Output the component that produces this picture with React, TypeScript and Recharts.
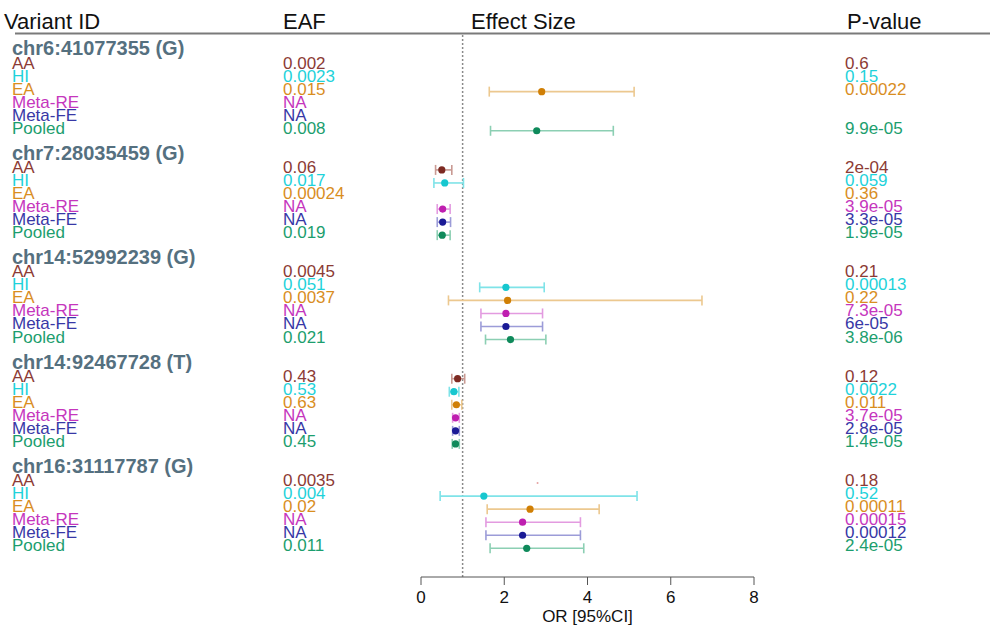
import React from 'react';
import {
  ScatterChart, Scatter, XAxis, YAxis, ErrorBar, ReferenceLine,
} from 'recharts';

const variants = [
  'chr6:41077355 (G)',
  'chr7:28035459 (G)',
  'chr14:52992239 (G)',
  'chr14:92467728 (T)',
  'chr16:31117787 (G)',
];
const cohorts = ['AA', 'HI', 'EA', 'Meta-RE', 'Meta-FE', 'Pooled'];

// effect allele frequency, per variant, per cohort
const eafValues = [
  ['0.002', '0.0023', '0.015', 'NA', 'NA', '0.008'],
  ['0.06', '0.017', '0.00024', 'NA', 'NA', '0.019'],
  ['0.0045', '0.051', '0.0037', 'NA', 'NA', '0.021'],
  ['0.43', '0.53', '0.63', 'NA', 'NA', '0.45'],
  ['0.0035', '0.004', '0.02', 'NA', 'NA', '0.011'],
];
const pValues = [
  ['0.6', '0.15', '0.00022', '', '', '9.9e-05'],
  ['2e-04', '0.059', '0.36', '3.9e-05', '3.3e-05', '1.9e-05'],
  ['0.21', '0.00013', '0.22', '7.3e-05', '6e-05', '3.8e-06'],
  ['0.12', '0.0022', '0.011', '3.7e-05', '2.8e-05', '1.4e-05'],
  ['0.18', '0.52', '0.00011', '0.00015', '0.00012', '2.4e-05'],
];
const orEst = [
  [null, null, 2.9, null, null, 2.78],
  [0.5, 0.57, null, 0.52, 0.52, 0.51],
  [null, 2.04, 2.08, 2.04, 2.04, 2.15],
  [0.88, 0.79, 0.85, 0.83, 0.83, 0.83],
  [2.8, 1.51, 2.62, 2.44, 2.44, 2.54],
];
const orLow = [
  [null, null, 1.64, null, null, 1.67],
  [0.35, 0.31, null, 0.39, 0.39, 0.39],
  [null, 1.41, 0.66, 1.44, 1.44, 1.55],
  [0.74, 0.68, 0.74, 0.76, 0.76, 0.75],
  [2.8, 0.46, 1.59, 1.56, 1.56, 1.66],
];
const orHigh = [
  [null, null, 5.12, null, null, 4.62],
  [0.74, 1.02, null, 0.7, 0.71, 0.7],
  [null, 2.96, 6.75, 2.92, 2.92, 3.0],
  [1.05, 0.91, 0.98, 0.92, 0.92, 0.92],
  [2.8, 5.19, 4.28, 3.83, 3.83, 3.91],
];
const xTicks = [0, 2, 4, 6, 8];

const textColors = ['#8c3b35', '#1fd2da', '#d98e1f', '#c536bd', '#3838a6', '#1c9e6e'];
const dotColors = ['#7d2a22', '#17c7cf', '#d07f05', '#bf1fb0', '#1b1b96', '#0f8a5b'];
const barColors = ['#c99a93', '#7fe3e8', '#ecc88f', '#e39be0', '#9c9cd8', '#8ccfb3'];
const headColor = '#55707f';
const FONT = '"Liberation Sans", Arial, sans-serif';

const ROWS_PER_BLOCK = 8;
const slotOf = (b: number, r: number) => b * ROWS_PER_BLOCK + r;

// tick slots: header rows sit one slot above the first cohort row
type TickInfo = { kind: 'head' | 'row'; b: number; r: number };
const tickMap = new Map<number, TickInfo>();
variants.forEach((_, b) => {
  tickMap.set(slotOf(b, -1), { kind: 'head', b, r: -1 });
  cohorts.forEach((__, r) => tickMap.set(slotOf(b, r), { kind: 'row', b, r }));
});
const yTicks = Array.from(tickMap.keys());

type Pt = { or: number; slot: number; err: number[]; r: number };
const allPoints: Pt[][] = cohorts.map((_, r) =>
  variants.flatMap((__, b) => {
    const est = orEst[b][r];
    const lo = orLow[b][r];
    const hi = orHigh[b][r];
    if (est == null || lo == null || hi == null) return [];
    return [{ or: est, slot: slotOf(b, r), err: [est - lo, hi - est], r }];
  }),
);
// estimates with a real interval get error bars; degenerate ones are a lone speck
const withCI = allPoints.map((pts) => pts.filter((p) => p.err[0] + p.err[1] > 0));
const noCI = allPoints.flat().filter((p) => p.err[0] + p.err[1] === 0);

const RowTick = (props: any) => {
  const { y, payload } = props;
  const info = tickMap.get(payload.value);
  if (!info) return null;
  if (info.kind === 'head') {
    return (
      <text x={12} y={y + 3} fontSize={20} fontWeight="bold" fill={headColor} fontFamily={FONT}>
        {variants[info.b]}
      </text>
    );
  }
  const col = textColors[info.r];
  return (
    <g fontSize={17} fontFamily={FONT} fill={col}>
      <text x={12} y={y + 3}>{cohorts[info.r]}</text>
      <text x={283} y={y + 3}>{eafValues[info.b][info.r]}</text>
      <text x={845} y={y + 3}>{pValues[info.b][info.r]}</text>
    </g>
  );
};

const makeDot = (r: number) => (props: any) => {
  const { cx, cy } = props;
  return <circle cx={cx} cy={cy} r={3.6} fill={dotColors[r]} />;
};

const Speck = (props: any) => {
  const { cx, cy } = props;
  return <circle cx={cx} cy={cy} r={1} fill="#e5a3a3" />;
};

export default function App() {
  return (
    <div style={{ position: 'relative', width: 990, height: 625, background: '#fff' }}>
      <style>{'body{margin:0}'}</style>
      <svg width={990} height={40} style={{ position: 'absolute', left: 0, top: 0 }}>
        <g fontSize={22} fontFamily={FONT} fill="#111">
          <text x={4} y={29}>Variant ID</text>
          <text x={283} y={29}>EAF</text>
          <text x={471} y={29}>Effect Size</text>
          <text x={847} y={29}>P-value</text>
        </g>
        <line x1={15} x2={990} y1={33.5} y2={33.5} stroke="#7a7a7a" strokeWidth={2} />
      </svg>
      <ScatterChart width={990} height={625} margin={{ top: 35, right: 236, bottom: 0, left: 0 }}>
        <XAxis
          type="number"
          dataKey="or"
          domain={[0, 8]}
          ticks={xTicks}
          allowDataOverflow
          height={48}
          tickSize={8}
          stroke="#555"
          tick={{ fontSize: 17, fill: '#111', fontFamily: FONT, dy: 4 }}
          label={{ value: 'OR [95%CI]', position: 'insideBottom', offset: 3, fontSize: 17, fill: '#111', fontFamily: FONT }}
        />
        <YAxis
          type="number"
          dataKey="slot"
          domain={[-2.34, 39.2]}
          reversed
          allowDataOverflow
          ticks={yTicks}
          interval={0}
          width={421}
          axisLine={false}
          tickLine={false}
          tick={<RowTick />}
        />
        <ReferenceLine x={1} stroke="#8a8a8a" strokeWidth={1.5} strokeDasharray="2 2" />
        {cohorts.map((c, r) => (
          <Scatter
            key={c}
            name={c}
            data={withCI[r]}
            shape={makeDot(r)}
            isAnimationActive={false}
          >
            <ErrorBar dataKey="err" direction="x" width={5} stroke={barColors[r]} strokeWidth={1.6} />
          </Scatter>
        ))}
        <Scatter name="point-only" data={noCI} shape={<Speck />} isAnimationActive={false} />
      </ScatterChart>
    </div>
  );
}
